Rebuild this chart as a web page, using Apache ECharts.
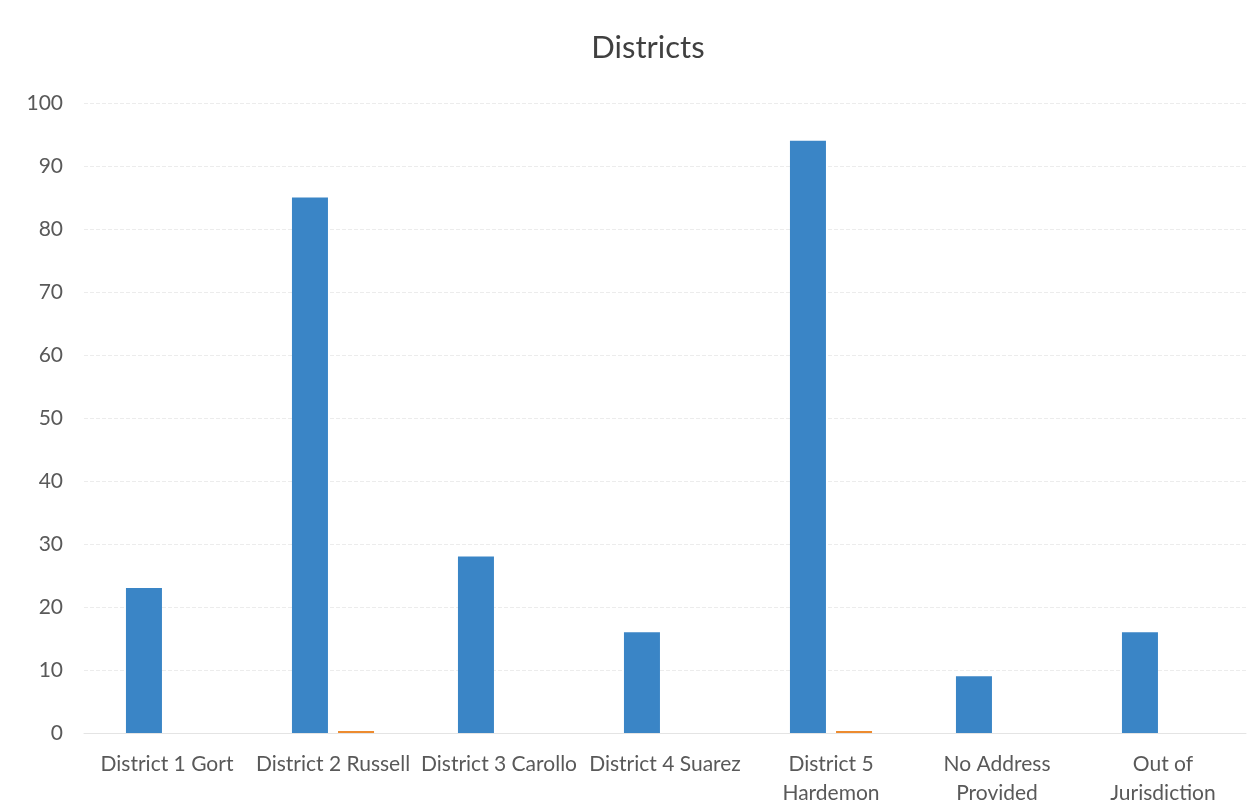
<!DOCTYPE html>
<html><head><meta charset="utf-8">
<script src="https://cdn.jsdelivr.net/npm/echarts@6/dist/echarts.min.js"></script>
<style>html,body{margin:0;padding:0;background:#fff}#c{width:1253px;height:804px}</style>
</head><body><div id="c"></div>
<script>
const categories = ["District 1 Gort","District 2 Russell","District 3 Carollo","District 4 Suarez","District 5\nHardemon","No Address\nProvided","Out of\nJurisdiction"];
const countValues = [23, 85, 28, 16, 94, 9, 16];
const secondValues = [0, 0.3, 0, 0, 0.3, 0, 0];
const yTicks = {min: 0, max: 100, interval: 10};

const chart = echarts.init(document.getElementById('c'), null, {renderer: 'canvas'});
chart.setOption({
  animation: false,
  textStyle: {fontFamily: 'Lato'},
  title: {text: 'Districts', left: 643, textAlign: 'center', top: 27, textStyle: {fontFamily: 'Lato', fontSize: 31, fontWeight: 'normal', color: '#404040'}},
  grid: {left: 84, right: 7, top: 103, bottom: 71, containLabel: false, outerBoundsMode: 'none'},
  xAxis: {type: 'category', data: categories,
    axisLine: {show: true, lineStyle: {color: '#e4e4e4'}}, axisTick: {show: false},
    axisLabel: {interval: 0, fontSize: 21, color: '#595959', lineHeight: 29, margin: 17, fontFamily: 'Lato'}},
  yAxis: {type: 'value', min: yTicks.min, max: yTicks.max, interval: yTicks.interval,
    axisLine: {show: false}, axisTick: {show: false},
    splitLine: {lineStyle: {color: '#ececec', type: 'dashed'}},
    axisLabel: {fontSize: 21, color: '#595959', margin: 21, fontFamily: 'Lato'}},
  series: [
    {type: 'bar', data: countValues, barWidth: 36, barGap: '28%', itemStyle: {color: '#3a85c6'}},
    {type: 'bar', data: secondValues, barWidth: 36, itemStyle: {color: '#ed8b2f'}}
  ]
});
</script></body></html>
